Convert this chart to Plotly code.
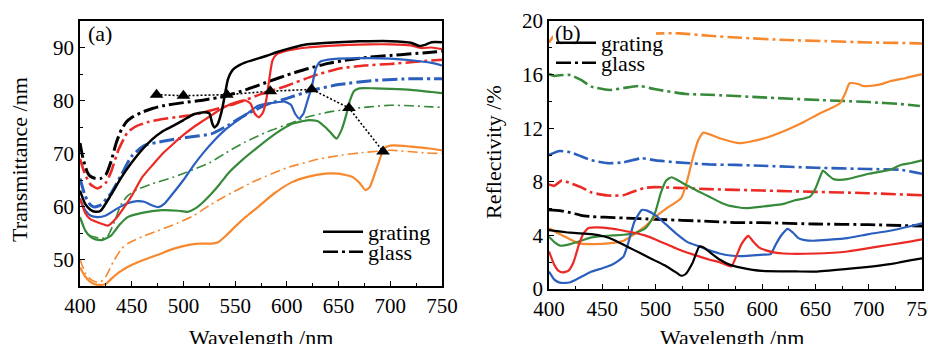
import plotly.graph_objects as go

W, H = 928, 344
FONT = "Liberation Serif, Times New Roman, DejaVu Serif, serif"

# ---------------- Panel (a): transmittance ----------------
a_black_g_x = [400,405,410,415,420,430,440,450,460,470,480,490,500,510,520,525,528,530,533,537,540,543,547,550,560,570,580,590,600,610,620,640,660,680,700,720,728,735,740,750]
a_black_g_y = [63,60.5,59.4,59,59.2,62.2,65.5,68.3,70.7,72.7,74.2,75.2,76.3,77.4,77.8,77.6,75.6,74.9,75.5,78,81,84,85.6,86.2,87.2,87.8,88.4,89.1,89.7,90.2,90.6,90.9,91.1,91.2,91.2,90.9,90.3,90.6,91,91]
a_black_s_x = [400,403,407,410,415,420,425,430,435,440,445,450,460,470,480,500,520,540,560,580,600,620,640,660,680,700,720,740,750]
a_black_s_y = [72,69,66.5,65.7,65.3,65.3,66,68.5,72,74.5,76,76.8,77.8,78.5,79,79.6,80.1,80.8,82,83.4,84.8,86,87,87.7,88.2,88.5,88.8,89.1,89.3]

a_red_g_x = [400,405,410,420,427,435,445,450,460,470,480,490,500,510,520,530,540,550,560,565,569,573,577,580,583,586,590,600,620,640,660,680,700,720,730,740,750]
a_red_g_y = [61.5,58.8,57.6,56.8,56.4,57.8,60.5,62,65.5,67.8,70,71.8,73.5,75,76.3,77.6,78.8,79.6,80,79.4,77.5,76.8,77.8,80,84,87.5,88.7,89.4,90,90.3,90.5,90.6,90.6,90.4,89.9,90,89.7]
a_red_s_x = [400,405,410,417,425,430,437,446,455,465,480,495,510,530,550,575,600,625,650,675,700,725,750]
a_red_s_y = [69,66,64.2,63.4,64.5,66.5,70.6,74,75.2,75.9,76.5,76.9,77.3,78.3,79.4,81.2,82.8,84.6,86,86.6,86.9,87.3,87.7]

a_blue_g_x = [400,405,410,417,425,435,446,455,462,470,476,482,490,500,510,520,530,540,550,560,572,585,598,604,608,612,616,620,624,628,632,640,650,680,700,720,740,750]
a_blue_g_y = [61.5,59.3,58.3,58,58.3,59.5,60.6,61,60.9,60.2,59.9,60.6,62.5,65,67.8,70.3,72.5,74.4,75.9,77.3,79,79.5,79.8,79.2,77.5,76.6,77.5,80,82.5,86,87.3,87.7,87.9,88,87.9,87.6,87.1,86.6]
a_blue_s_x = [400,405,410,414,420,430,440,450,462,480,495,510,527,543,560,580,600,624,650,685,720,750]
a_blue_s_y = [65.3,62,60.3,59.9,60.3,62.5,66,69.5,71.5,72.3,72.8,73.2,73.7,75.3,77.3,79.2,80.4,81.9,83,83.8,84.1,84.1]

a_green_g_x = [400,405,410,415,422,430,438,446,460,479,495,504,512,520,527,535,543,557,572,588,605,621,630,637,643,648,653,657,661,665,670,685,700,720,740,750]
a_green_g_y = [58,55.5,54.3,53.8,53.7,54.5,56.5,58,58.8,59.3,59.2,59,59.7,61,62.4,64.2,66.2,68.8,71.2,73.6,75.6,76.3,76.1,75,73.8,72.8,74.5,77,80,81.8,82.3,82.3,82.2,82,81.6,81.4]
a_green_s_x = [400,405,410,420,426,432,440,446,455,470,490,510,525,540,560,580,605,620,640,660,680,700,720,740,750]
a_green_s_y = [58,55.5,54.5,54,54.2,56.5,60.5,62,63.2,64.3,65.5,67,68.2,70,72.2,74,75.8,76.9,77.8,78.4,78.8,79.1,79,78.8,78.7]

a_orange_g_x = [400,405,410,415,420,425,430,438,446,460,478,490,504,515,527,533,540,550,560,572,588,605,620,637,650,663,670,676,680,685,690,694,700,720,740,750]
a_orange_g_y = [48.5,46.8,45.8,45.3,45.2,45.4,46.3,47.6,48.6,49.8,51.1,52,52.7,53,53,53.2,54.3,56.2,58,59.9,62.5,64.6,65.6,66.2,66.2,65.6,64.5,63.1,63.6,66.2,69,71,71.5,71.3,70.9,70.6]
a_orange_s_x = [400,405,410,415,420,425,432,440,446,460,475,490,510,525,540,570,600,630,653,670,700,735,750]
a_orange_s_y = [50,47.5,46.3,45.8,45.8,46.8,49.5,52,53,54.3,55.4,56.5,58.3,60.2,61.9,64.9,67.3,68.9,69.7,70.1,70.6,70.1,70]

# shift points (triangles) in panel (a)
tri_x = [474, 500, 542, 584, 624, 660, 693]
tri_y = [81.1, 80.9, 81.1, 81.75, 82.1, 78.6, 70.4]

# ---------------- Panel (b): reflectivity ----------------
b_black_g_x = [400,420,440,452,460,470,480,490,500,510,520,524,528,535,541,545,550,560,570,580,600,632,650,680,700,720,730,740,750]
b_black_g_y = [4.4,4.2,4.1,3.92,3.7,3.3,2.9,2.5,2.1,1.7,1.2,0.99,1.1,2.0,3.17,3.1,2.8,2.2,1.8,1.6,1.35,1.31,1.3,1.5,1.65,1.85,2.0,2.15,2.28]
b_black_s_x = [400,410,420,430,440,452,470,500,550,574,600,650,700,750]
b_black_s_y = [5.9,5.85,5.7,5.5,5.4,5.36,5.3,5.2,5.05,4.96,4.95,4.85,4.8,4.7]

b_red_g_x = [400,405,409,413,418,423,428,432,437,445,459,470,480,490,500,510,520,530,540,550,560,571,576,581,587,592,597,603,612,620,650,680,700,720,740,750]
b_red_g_y = [2.8,1.8,1.35,1.24,1.35,2.0,3.3,4.1,4.55,4.6,4.5,4.35,4.2,4.0,3.7,3.35,3.0,2.7,2.45,2.2,2.0,1.68,2.5,3.4,3.97,3.5,3.1,2.9,2.72,2.65,2.65,2.8,3.05,3.3,3.55,3.7]
b_red_s_x = [400,405,412,420,430,440,455,470,480,490,499,520,550,600,650,700,750]
b_red_s_y = [7.8,7.7,8.1,7.9,7.6,7.2,6.98,7.0,7.3,7.55,7.6,7.55,7.45,7.35,7.25,7.15,7.0]

b_blue_g_x = [400,405,410,415,420,430,440,450,459,465,470,475,480,487,492,500,510,520,530,540,550,560,570,580,601,608,612,617,624,629,634,640,648,680,700,720,740,750]
b_blue_g_y = [1.3,0.7,0.48,0.45,0.5,0.9,1.3,1.55,1.81,2.1,2.43,3.6,5.0,5.9,5.85,5.5,4.8,4.1,3.5,3.2,2.9,2.65,2.5,2.45,2.56,2.6,3.2,3.9,4.49,4.2,3.8,3.65,3.6,3.8,4.1,4.35,4.7,4.9]
b_blue_s_x = [400,410,420,430,440,455,470,487,500,520,550,574,600,650,700,730,750]
b_blue_s_y = [10.0,10.3,10.2,9.9,9.6,9.39,9.45,9.76,9.6,9.45,9.3,9.26,9.2,9.05,8.95,8.9,8.6]

b_green_g_x = [400,405,411,420,430,440,450,460,470,480,490,495,500,505,510,515,520,530,540,550,560,570,585,600,620,630,645,650,654,657,662,667,672,680,700,720,730,740,750]
b_green_g_y = [3.9,3.5,3.23,3.35,3.6,3.85,3.95,4.0,4.05,4.15,4.5,5.0,5.8,7.2,8.1,8.34,8.15,7.7,7.3,6.9,6.5,6.2,6.03,6.15,6.35,6.6,6.9,7.5,8.3,8.84,8.5,8.2,8.15,8.2,8.6,8.9,9.25,9.4,9.6]
b_green_s_x = [400,405,410,420,430,440,457,470,485,500,529,550,600,654,700,730,748]
b_green_s_y = [16.04,15.9,15.95,15.97,15.6,15.1,14.85,15.0,15.15,14.9,14.55,14.5,14.3,14.1,13.95,13.8,13.66]

b_orange_g_x = [400,410,420,427,440,458,470,480,490,500,510,524,530,535,540,545,560,579,600,623,640,654,665,673,678,682,690,695,701,710,720,735,748,750]
b_orange_g_y = [4.54,4.1,3.7,3.42,3.35,3.42,3.6,4.1,4.66,5.4,6.0,6.78,8.2,9.8,11.1,11.67,11.25,10.88,11.2,11.87,12.5,13.1,13.5,13.86,14.6,15.35,15.3,15.15,15.15,15.25,15.5,15.75,16.0,16.02]
b_orange_s_x = [400,405,420,450,480,500,522,550,580,623,660,700,748,750]
b_orange_s_y = [18.4,18.9,19.1,19.1,19.08,19.07,19.08,18.9,18.75,18.58,18.5,18.4,18.33,18.3]

axis_labels_x = [400, 450, 500, 550, 600, 650, 700, 750]

BLACK = "#000000"
RED = "#ec2a25"
BLUE = "#2b5fbd"
GREEN = "#368a3a"
ORANGE = "#f7882e"

DASHDOT = "15px,4px,3px,4px"
DASHDOT_THIN = "10px,4px,2px,4px"

fig = go.Figure()


def add(x, y, color, width, dash, xa, ya):
    fig.add_trace(go.Scatter(
        x=x, y=y, mode="lines", showlegend=False, hoverinfo="skip",
        line=dict(color=color, width=width, dash=dash, shape="spline", smoothing=0.5),
        xaxis=xa, yaxis=ya))


# dotted connector under the curves
fig.add_trace(go.Scatter(x=tri_x, y=tri_y, mode="lines", showlegend=False, hoverinfo="skip",
                         line=dict(color="black", width=1.6, dash="2px,2px"),
                         xaxis="x", yaxis="y"))

# panel a: glass (dash-dot)
add(a_orange_s_x, a_orange_s_y, ORANGE, 1.6, DASHDOT_THIN, "x", "y")
add(a_green_s_x, a_green_s_y, GREEN, 1.6, DASHDOT_THIN, "x", "y")
add(a_blue_s_x, a_blue_s_y, BLUE, 3, DASHDOT, "x", "y")
add(a_red_s_x, a_red_s_y, RED, 2.6, DASHDOT, "x", "y")
add(a_black_s_x, a_black_s_y, BLACK, 3, DASHDOT, "x", "y")
# panel a: grating (solid)
add(a_orange_g_x, a_orange_g_y, ORANGE, 2.2, "solid", "x", "y")
add(a_green_g_x, a_green_g_y, GREEN, 2.2, "solid", "x", "y")
add(a_blue_g_x, a_blue_g_y, BLUE, 2.2, "solid", "x", "y")
add(a_red_g_x, a_red_g_y, RED, 2.2, "solid", "x", "y")
add(a_black_g_x, a_black_g_y, BLACK, 2.5, "solid", "x", "y")

fig.add_trace(go.Scatter(x=tri_x, y=tri_y, mode="markers", showlegend=False, hoverinfo="skip",
                         marker=dict(symbol="triangle-up", size=12, color="black"),
                         xaxis="x", yaxis="y"))

# panel b
add(b_orange_s_x, b_orange_s_y, ORANGE, 2.6, DASHDOT, "x2", "y2")
add(b_green_s_x, b_green_s_y, GREEN, 2.6, DASHDOT, "x2", "y2")
add(b_blue_s_x, b_blue_s_y, BLUE, 2.6, DASHDOT, "x2", "y2")
add(b_red_s_x, b_red_s_y, RED, 2.6, DASHDOT, "x2", "y2")
add(b_black_s_x, b_black_s_y, BLACK, 2.8, DASHDOT, "x2", "y2")
add(b_orange_g_x, b_orange_g_y, ORANGE, 2.2, "solid", "x2", "y2")
add(b_green_g_x, b_green_g_y, GREEN, 2.2, "solid", "x2", "y2")
add(b_blue_g_x, b_blue_g_y, BLUE, 2.2, "solid", "x2", "y2")
add(b_red_g_x, b_red_g_y, RED, 2.2, "solid", "x2", "y2")
add(b_black_g_x, b_black_g_y, BLACK, 2.2, "solid", "x2", "y2")

# legend entries (one legend per row so rows sit tight)
for name, dash, lg in [("grating", "solid", "legend"), ("glass", DASHDOT, "legend2"),
                       ("grating", "solid", "legend3"), ("glass", DASHDOT, "legend4")]:
    fig.add_trace(go.Scatter(x=[None], y=[None], mode="lines", name=name,
                             line=dict(color="black", width=2.5, dash=dash),
                             legend=lg, xaxis="x" if lg in ("legend", "legend2") else "x2",
                             yaxis="y" if lg in ("legend", "legend2") else "y2"))


def px(x):
    return x / W


def py(y):
    return 1 - y / H


tickfont = dict(family=FONT, size=21, color="black")
common = dict(showline=True, linecolor="black", linewidth=1.5, mirror=True,
              ticks="inside", ticklen=5, tickwidth=1.2, tickcolor="black",
              showgrid=False, zeroline=False, tickfont=tickfont, automargin=False,
              ticklabeloverflow="allow")

legfont = dict(family=FONT, size=22, color="black")


def leg(x, y):
    return dict(x=px(x), y=py(y), xanchor="left", yanchor="middle", bgcolor="rgba(0,0,0,0)",
                borderwidth=0, font=legfont, itemwidth=40, tracegroupgap=0)


fig.update_layout(
    template="none",
    width=W, height=H, autosize=False,
    margin=dict(l=0, r=0, t=0, b=0, pad=0),
    paper_bgcolor="white", plot_bgcolor="white",
    font=dict(family=FONT, color="black"),
    xaxis=dict(domain=[px(80), px(442)], range=[400, 750], anchor="y",
               tickvals=axis_labels_x,
               minor=dict(ticks="inside", ticklen=3, tickwidth=1, tickcolor="black", dtick=25, tick0=400, showgrid=False),
               **common),
    yaxis=dict(domain=[py(286), py(21)], range=[45, 95], anchor="x",
               tick0=50, dtick=10,
               minor=dict(ticks="inside", ticklen=3, tickwidth=1, tickcolor="black", dtick=5, tick0=45, showgrid=False),
               **common),
    xaxis2=dict(domain=[px(549), px(922)], range=[400, 750], anchor="y2",
                tickvals=axis_labels_x,
                minor=dict(ticks="inside", ticklen=3, tickwidth=1, tickcolor="black", dtick=25, tick0=400, showgrid=False),
                **common),
    yaxis2=dict(domain=[py(289), py(21)], range=[0, 20], anchor="x2",
                tick0=0, dtick=4,
                minor=dict(ticks="inside", ticklen=3, tickwidth=1, tickcolor="black", dtick=2, tick0=0, showgrid=False),
                **common),
    legend=leg(318, 232),
    legend2=leg(318, 252),
    legend3=leg(551, 43),
    legend4=leg(551, 63),
    shapes=[dict(type="rect", xref="paper", yref="paper", x0=px(553), x1=px(656),
                 y0=py(48), y1=py(24), fillcolor="white", line=dict(width=0), layer="above")],
    annotations=[
        dict(text="(a)", x=px(100), y=py(34), xref="paper", yref="paper", showarrow=False,
             xanchor="center", yanchor="middle", font=dict(family=FONT, size=22, color="black")),
        dict(text="(b)", x=px(568), y=py(33), xref="paper", yref="paper", showarrow=False,
             xanchor="center", yanchor="middle", font=dict(family=FONT, size=22, color="black")),
        dict(text="Transmittance /nm", x=px(20), y=py(160), xref="paper", yref="paper",
             showarrow=False, textangle=-90, xanchor="center", yanchor="middle",
             font=dict(family=FONT, size=22, color="black")),
        dict(text="Reflectivity /%", x=px(493), y=py(152), xref="paper", yref="paper",
             showarrow=False, textangle=-90, xanchor="center", yanchor="middle",
             font=dict(family=FONT, size=22, color="black")),
        dict(text="Wavelength /nm", x=px(261), y=py(323), xref="paper", yref="paper",
             showarrow=False, xanchor="center", yanchor="top", font=dict(family=FONT, size=22, color="black")),
        dict(text="Wavelength /nm", x=px(732), y=py(323), xref="paper", yref="paper",
             showarrow=False, xanchor="center", yanchor="top", font=dict(family=FONT, size=22, color="black")),
    ],
)

fig.write_html("out.html", config={"displayModeBar": False},
               post_script="document.body.style.margin='0px';document.body.style.padding='0px';document.body.style.overflow='hidden';")
